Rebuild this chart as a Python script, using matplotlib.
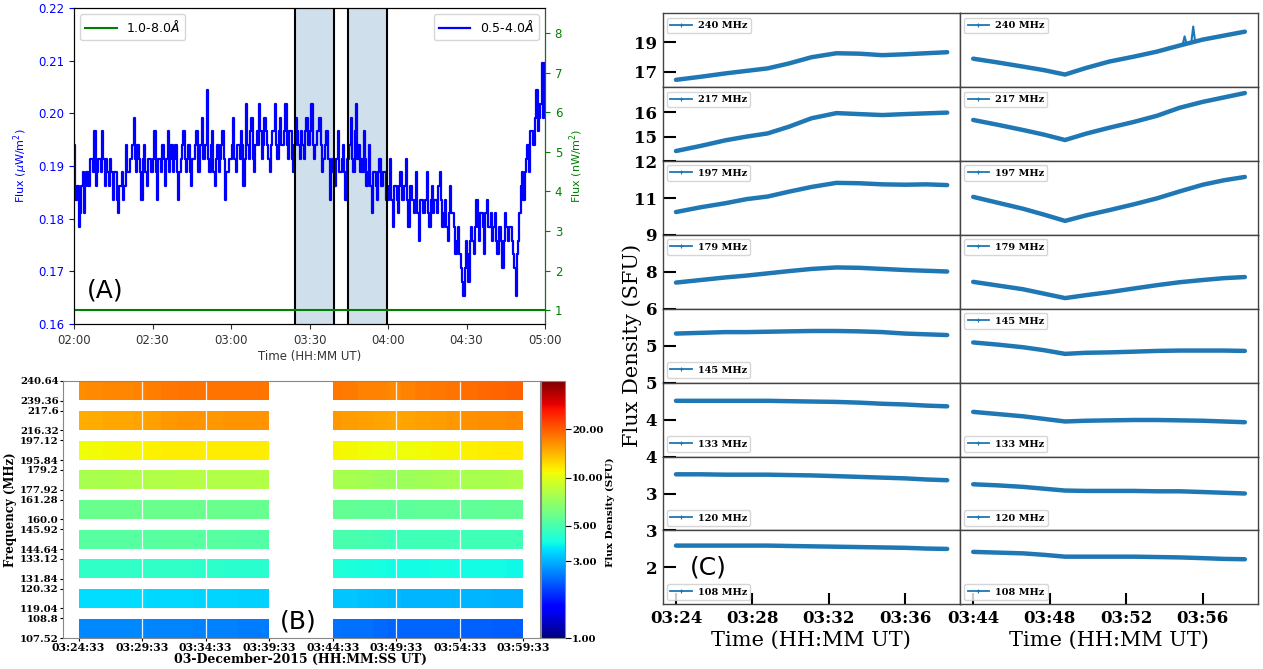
import numpy as np
import matplotlib
matplotlib.use("Agg")
import matplotlib.pyplot as plt
from matplotlib.colors import LogNorm
from matplotlib.lines import Line2D

W, H = 1263, 669
fig = plt.figure(figsize=(W / 100, H / 100), dpi=100)


def px_axes(l, t, r, b):
    return fig.add_axes([l / W, 1 - b / H, (r - l) / W, (b - t) / H])


# ======================= DATA =======================
# Panel A : GOES X-ray flux, minutes after 02:00 UT (30-s cadence)
A_MINUTES = np.arange(0, 180.5, 0.5)
A_SHORT = [
    0.1940, 0.1836, 0.1836, 0.1862, 0.1784, 0.1810, 0.1862, 0.1888, 0.1810, 0.1862,
    0.1888, 0.1862, 0.1862, 0.1914, 0.1914, 0.1888, 0.1966, 0.1862, 0.1888, 0.1914,
    0.1914, 0.1888, 0.1966, 0.1914, 0.1862, 0.1914, 0.1888, 0.1862, 0.1914, 0.1888,
    0.1836, 0.1888, 0.1888, 0.1836, 0.1810, 0.1862, 0.1862, 0.1888, 0.1836, 0.1862,
    0.1940, 0.1888, 0.1888, 0.1914, 0.1914, 0.1940, 0.1992, 0.1914, 0.1888, 0.1940,
    0.1914, 0.1888, 0.1836, 0.1914, 0.1940, 0.1888, 0.1862, 0.1914, 0.1914, 0.1888,
    0.1888, 0.1914, 0.1966, 0.1888, 0.1836, 0.1914, 0.1914, 0.1888, 0.1940, 0.1914,
    0.1862, 0.1914, 0.1966, 0.1888, 0.1914, 0.1940, 0.1888, 0.1914, 0.1940, 0.1888,
    0.1836, 0.1888, 0.1914, 0.1940, 0.1966, 0.1914, 0.1888, 0.1914, 0.1940, 0.1888,
    0.1862, 0.1914, 0.1914, 0.1940, 0.1966, 0.1888, 0.1888, 0.1940, 0.1992, 0.1914,
    0.1914, 0.1940, 0.2044, 0.1914, 0.1888, 0.1940, 0.1966, 0.1888, 0.1862, 0.1914,
    0.1940, 0.1888, 0.1914, 0.1940, 0.1966, 0.1914, 0.1836, 0.1888, 0.1888, 0.1914,
    0.1914, 0.1940, 0.1992, 0.1914, 0.1888, 0.1940, 0.1940, 0.1914, 0.1966, 0.1940,
    0.1862, 0.1914, 0.2018, 0.1940, 0.1914, 0.1966, 0.1992, 0.1914, 0.1888, 0.1940,
    0.1966, 0.1940, 0.2018, 0.1966, 0.1914, 0.1940, 0.1992, 0.1966, 0.1940, 0.1914,
    0.1888, 0.1940, 0.1966, 0.1966, 0.2018, 0.1940, 0.1914, 0.1966, 0.1992, 0.1940,
    0.1940, 0.1966, 0.2018, 0.1940, 0.1914, 0.1966, 0.1966, 0.1914, 0.1888, 0.1940,
    0.1992, 0.1966, 0.1940, 0.1914, 0.1966, 0.1940, 0.1914, 0.1966, 0.1992, 0.1940,
    0.1940, 0.1966, 0.2018, 0.1940, 0.1914, 0.1940, 0.1966, 0.1966, 0.1992, 0.1940,
    0.1888, 0.1914, 0.1940, 0.1966, 0.1966, 0.1914, 0.1836, 0.1888, 0.1914, 0.1914,
    0.1862, 0.1914, 0.1966, 0.1888, 0.1888, 0.1914, 0.1940, 0.1888, 0.1836, 0.1914,
    0.1914, 0.1940, 0.1992, 0.1914, 0.1888, 0.1966, 0.2018, 0.1914, 0.1940, 0.1888,
    0.1914, 0.1888, 0.1966, 0.1914, 0.1862, 0.1888, 0.1940, 0.1862, 0.1810, 0.1888,
    0.1888, 0.1862, 0.1836, 0.1888, 0.1914, 0.1862, 0.1862, 0.1888, 0.1888, 0.1836,
    0.1836, 0.1862, 0.1914, 0.1836, 0.1784, 0.1862, 0.1862, 0.1836, 0.1810, 0.1862,
    0.1888, 0.1836, 0.1836, 0.1862, 0.1914, 0.1836, 0.1784, 0.1862, 0.1862, 0.1836,
    0.1810, 0.1836, 0.1888, 0.1810, 0.1758, 0.1836, 0.1836, 0.1810, 0.1810, 0.1836,
    0.1888, 0.1810, 0.1784, 0.1836, 0.1862, 0.1810, 0.1836, 0.1836, 0.1810, 0.1862,
    0.1888, 0.1836, 0.1784, 0.1810, 0.1836, 0.1784, 0.1758, 0.1810, 0.1862, 0.1810,
    0.1810, 0.1784, 0.1732, 0.1758, 0.1784, 0.1732, 0.1706, 0.1680, 0.1654, 0.1706,
    0.1758, 0.1732, 0.1680, 0.1758, 0.1784, 0.1758, 0.1732, 0.1784, 0.1836, 0.1784,
    0.1758, 0.1810, 0.1810, 0.1784, 0.1732, 0.1810, 0.1836, 0.1784, 0.1784, 0.1810,
    0.1758, 0.1784, 0.1810, 0.1758, 0.1732, 0.1784, 0.1784, 0.1758, 0.1706, 0.1758,
    0.1810, 0.1784, 0.1758, 0.1784, 0.1784, 0.1758, 0.1732, 0.1706, 0.1654, 0.1732,
    0.1758, 0.1810, 0.1862, 0.1888, 0.1836, 0.1888, 0.1914, 0.1940, 0.1888, 0.1966,
    0.1966, 0.1940, 0.1940, 0.1992, 0.2044, 0.1966, 0.1992, 0.2018, 0.2096, 0.1992,
    0.2096,
]
A_LONG_T = [0, 180]
A_LONG = [1.0, 1.0]
A_SPANS = [(84.55, 99.55), (104.55, 119.55)]
A_XTICKS = [0, 30, 60, 90, 120, 150, 180]
A_XLABELS = ["02:00", "02:30", "03:00", "03:30", "04:00", "04:30", "05:00"]
A_YTICKS = [0.16, 0.17, 0.18, 0.19, 0.20, 0.21, 0.22]
A_Y2TICKS = [1, 2, 3, 4, 5, 6, 7, 8]

# Panel C : flux density (SFU), minutes after start of each interval
C_TIME = [0.0, 1.3, 2.6, 3.7, 4.8, 5.9, 7.1, 8.4, 9.6, 10.8, 12.0, 13.1, 14.2]
C_NAMES = ["240 MHz", "217 MHz", "197 MHz", "179 MHz", "145 MHz", "133 MHz", "120 MHz", "108 MHz"]
L240 = [16.44, 16.65, 16.88, 17.05, 17.22, 17.55, 17.98, 18.25, 18.22, 18.12, 18.18, 18.25, 18.32]
R240 = [17.88, 17.62, 17.34, 17.10, 16.80, 17.25, 17.68, 18.02, 18.36, 18.78, 19.18, 19.45, 19.72]
L217 = [14.41, 14.62, 14.85, 15.00, 15.13, 15.40, 15.75, 15.96, 15.92, 15.88, 15.92, 15.95, 15.98]
R217 = [15.68, 15.48, 15.27, 15.08, 14.86, 15.12, 15.36, 15.60, 15.85, 16.18, 16.42, 16.60, 16.78]
L197 = [10.62, 10.75, 10.86, 10.97, 11.04, 11.17, 11.30, 11.41, 11.40, 11.37, 11.36, 11.37, 11.35]
R197 = [11.03, 10.87, 10.71, 10.55, 10.38, 10.53, 10.67, 10.83, 10.99, 11.18, 11.36, 11.48, 11.57]
L179 = [7.71, 7.78, 7.85, 7.90, 7.96, 8.02, 8.08, 8.12, 8.11, 8.08, 8.05, 8.03, 8.01]
R179 = [7.73, 7.63, 7.53, 7.41, 7.29, 7.37, 7.45, 7.55, 7.64, 7.72, 7.78, 7.83, 7.86]
L145 = [5.33, 5.35, 5.37, 5.37, 5.38, 5.39, 5.40, 5.40, 5.39, 5.37, 5.33, 5.31, 5.29]
R145 = [5.09, 5.03, 4.96, 4.88, 4.78, 4.81, 4.82, 4.84, 4.86, 4.87, 4.87, 4.87, 4.86]
L133 = [4.51, 4.51, 4.51, 4.51, 4.51, 4.50, 4.49, 4.48, 4.46, 4.43, 4.41, 4.38, 4.36]
R133 = [4.21, 4.15, 4.09, 4.02, 3.95, 3.97, 3.98, 3.99, 3.99, 3.98, 3.97, 3.95, 3.93]
L120 = [3.52, 3.52, 3.51, 3.51, 3.51, 3.50, 3.49, 3.47, 3.45, 3.43, 3.41, 3.38, 3.36]
R120 = [3.25, 3.22, 3.18, 3.13, 3.08, 3.07, 3.07, 3.07, 3.06, 3.06, 3.04, 3.02, 3.00]
L108 = [2.59, 2.59, 2.59, 2.59, 2.59, 2.58, 2.57, 2.56, 2.55, 2.54, 2.53, 2.51, 2.50]
R108 = [2.42, 2.40, 2.38, 2.34, 2.29, 2.29, 2.29, 2.29, 2.28, 2.27, 2.25, 2.23, 2.22]
# 161 MHz (only in the spectrogram)
L161 = [5.80, 5.82, 5.83, 5.84, 5.85, 5.85, 5.86, 5.86, 5.85, 5.83, 5.81, 5.79, 5.77]
R161 = [5.70, 5.66, 5.62, 5.58, 5.52, 5.54, 5.56, 5.58, 5.60, 5.62, 5.63, 5.64, 5.65]
SPIKE_T = [10.95, 11.05, 11.15, np.nan, 11.40, 11.50, 11.60]
SPIKE_V = [18.85, 19.40, 18.90, np.nan, 18.98, 20.07, 19.02]

C_LEFT = [L240, L217, L197, L179, L145, L133, L120, L108]
C_RIGHT = [R240, R217, R197, R179, R145, R133, R120, R108]
C_YLIM = [(15.94, 20.97), (14.0, 17.02), (10, 12.001), (7, 9.001),
          (4, 6.001), (3, 5.001), (2, 4.001), (1, 3.001)]
C_YTICKS = [[17, 19], [15, 16], [11, 12], [8, 9], [5, 6], [4, 5], [3, 4], [2, 3]]
C_LEG_LOC_L = ["upper left"] * 4 + ["lower left"] * 4
C_LEG_LOC_R = ["upper left"] * 5 + ["lower left"] * 3
C_XTICKS = [0, 4, 8, 12]
C_XLABELS_L = ["03:24", "03:28", "03:32", "03:36"]
C_XLABELS_R = ["03:44", "03:48", "03:52", "03:56"]

# Panel B : spectrogram bands (bottom to top)
B_LEFT = [L108, L120, L133, L145, L161, L179, L197, L217, L240]
B_RIGHT = [R108, R120, R133, R145, R161, R179, R197, R217, R240]
B_YLABELS = ["107.52", "108.8", "119.04", "120.32", "131.84", "133.12", "144.64",
             "145.92", "160.0", "161.28", "177.92", "179.2", "195.84", "197.12",
             "216.32", "217.6", "239.36", "240.64"]
B_XTICKS = [0, 5, 10, 15, 20, 25, 30, 35]
B_XLABELS = ["03:24:33", "03:29:33", "03:34:33", "03:39:33", "03:44:33",
             "03:49:33", "03:54:33", "03:59:33"]
B_CBTICKS = [1, 3, 5, 10, 20]

SERIF_B = dict(family="DejaVu Serif", weight="bold")

# ======================= PANEL A =======================
axA = px_axes(74, 8, 545, 324)
for s, e in A_SPANS:
    axA.axvspan(s, e, color="#cfdfeb", zorder=0, lw=0)
    axA.axvline(s, color="black", lw=1.5, zorder=3)
    axA.axvline(e, color="black", lw=1.5, zorder=3)
axA.plot(A_MINUTES, A_SHORT, color="blue", lw=1.6, drawstyle="steps-mid",
         label=r"0.5-4.0$\AA$", zorder=2)
axA.set_xlim(0, 180)
axA.set_ylim(0.16, 0.22)
axA.set_xticks(A_XTICKS)
axA.set_xticklabels(A_XLABELS)
axA.set_yticks(A_YTICKS)
axA.set_yticklabels(["%.2f" % v for v in A_YTICKS])
axA.tick_params(axis="y", colors="blue", labelsize=8.5)
axA.tick_params(axis="x", labelsize=8.5, colors="#333333")
axA.set_xlabel("Time (HH:MM UT)", fontsize=8.5, color="#333333", labelpad=2)
axA.set_ylabel(r"Flux ($\mu$W/m$^2$)", color="blue", fontsize=8, labelpad=6)
axA.legend(loc="upper right", fontsize=9, handlelength=2.5)
axA2 = axA.twinx()
axA2.plot(A_LONG_T, A_LONG, color="green", lw=1.5, label=r"1.0-8.0$\AA$")
axA2.set_ylim(0.65, 8.63)
axA2.set_yticks(A_Y2TICKS)
axA2.tick_params(axis="y", colors="green", labelsize=8.5)
axA2.spines["right"].set_color("green")
axA2.set_ylabel(r"Flux (nW/m$^2$)", color="green", fontsize=8, labelpad=4)
axA2.legend(loc="upper left", fontsize=9, handlelength=2.5)
fig.text(105 / W, 1 - 290 / H, "(A)", fontsize=18, ha="center", va="center")

# ======================= PANEL B =======================
axB = px_axes(63, 381, 540, 638)
norm = LogNorm(vmin=1, vmax=40)
t_arr = np.array(C_TIME)
edges = np.concatenate([[0.0], (t_arr[:-1] + t_arr[1:]) / 2, [15.0]])
mesh = None
for k in range(len(B_LEFT)):
    ye = [3 * k + 0.05, 3 * k + 1.95]
    mesh = axB.pcolormesh(edges, ye, [B_LEFT[k]], cmap="jet", norm=norm)
    axB.pcolormesh(edges + 20, ye, [B_RIGHT[k]], cmap="jet", norm=norm)
for xv in [5, 10, 25, 30]:
    axB.axvline(xv, color="white", lw=0.9, alpha=0.9)
axB.set_xlim(-1.22, 36.3)
axB.set_ylim(0, 26)
ypos = []
for k in range(9):
    ypos += [3 * k, 3 * k + 2]
axB.set_yticks(ypos)
axB.set_yticklabels(B_YLABELS)
axB.set_xticks(B_XTICKS)
axB.set_xticklabels(B_XLABELS)
axB.tick_params(length=2.5, width=0.8, pad=0.5)
for lab in axB.get_xticklabels():
    lab.set_fontproperties(dict(SERIF_B, size=7.8))
for lab in axB.get_yticklabels():
    lab.set_fontproperties(dict(SERIF_B, size=7.3))
for sp in axB.spines.values():
    sp.set_color("#888888")
fig.text(301 / W, 1 - 659 / H, "03-December-2015 (HH:MM:SS UT)", ha="center",
         va="center", fontsize=9, **SERIF_B)
fig.text(11 / W, 1 - 510 / H, "Frequency (MHz)", ha="center", va="center",
         rotation=90, fontsize=8.5, **SERIF_B)
fig.text(298 / W, 1 - 621 / H, "(B)", fontsize=18, ha="center", va="center")

cax = px_axes(541, 381, 565, 638)
cb = fig.colorbar(mesh, cax=cax, ticks=B_CBTICKS)
cb.ax.yaxis.set_minor_locator(matplotlib.ticker.NullLocator())
cb.ax.set_yticklabels(["%.2f" % v for v in B_CBTICKS])
cb.ax.tick_params(length=4, width=0.8, pad=1)
for lab in cb.ax.get_yticklabels():
    lab.set_fontproperties(dict(SERIF_B, size=7.2))
cb.outline.set_edgecolor("#888888")
fig.text(610 / W, 1 - 512 / H, "Flux Density (SFU)", ha="center", va="center",
         rotation=90, fontsize=7.5, **SERIF_B)

# ======================= PANEL C =======================
cols = [(662.6, 959.8), (959.8, 1257.5)]
top, bot = 13.3, 604.3
rh = (bot - top) / 8
blue = "#1f77b4"
for r in range(8):
    for c in range(2):
        l, rr = cols[c]
        ax = px_axes(l, top + r * rh, rr, top + (r + 1) * rh)
        data = C_LEFT[r] if c == 0 else C_RIGHT[r]
        ax.plot(C_TIME, data, color=blue, lw=3.2, solid_capstyle="round")
        if r == 0 and c == 1:
            ax.plot(SPIKE_T, SPIKE_V, color=blue, lw=1.5)
        ax.set_xlim(-0.70, 14.86)
        ax.set_ylim(*C_YLIM[r])
        h = Line2D([], [], color=blue, lw=1.3, marker="+", ms=3, mew=0.8)
        ax.legend(handles=[h], labels=[C_NAMES[r]],
                  loc=(C_LEG_LOC_L[r] if c == 0 else C_LEG_LOC_R[r]),
                  prop=dict(SERIF_B, size=7), handlelength=2.2,
                  borderpad=0.35, borderaxespad=0.45, handletextpad=0.6)
        for sp in ax.spines.values():
            sp.set_color("#444444")
            sp.set_linewidth(1.0)
        if c == 0:
            ax.set_yticks(C_YTICKS[r])
            ax.set_yticklabels([str(v) for v in C_YTICKS[r]])
            ax.tick_params(axis="y", direction="in", length=9, width=1.5, pad=4)
            for lab in ax.get_yticklabels():
                lab.set_fontproperties(dict(SERIF_B, size=12))
        else:
            ax.set_yticks([])
        if r == 7:
            ax.set_xticks(C_XTICKS)
            ax.set_xticklabels(C_XLABELS_L if c == 0 else C_XLABELS_R)
            ax.tick_params(axis="x", direction="in", length=8, width=1.5, pad=4)
            for lab in ax.get_xticklabels():
                lab.set_fontproperties(dict(SERIF_B, size=12))
        else:
            ax.set_xticks([])

fig.text(811 / W, 1 - 640 / H, "Time (HH:MM UT)", ha="center", va="center",
         fontsize=15, family="DejaVu Serif")
fig.text(1109 / W, 1 - 640 / H, "Time (HH:MM UT)", ha="center", va="center",
         fontsize=15, family="DejaVu Serif")
fig.text(632 / W, 1 - 345 / H, "Flux Density (SFU)", ha="center", va="center",
         rotation=90, fontsize=15, family="DejaVu Serif")
fig.text(708 / W, 1 - 568 / H, "(C)", fontsize=18, ha="center", va="center")

fig.savefig("out.png", dpi=100)
